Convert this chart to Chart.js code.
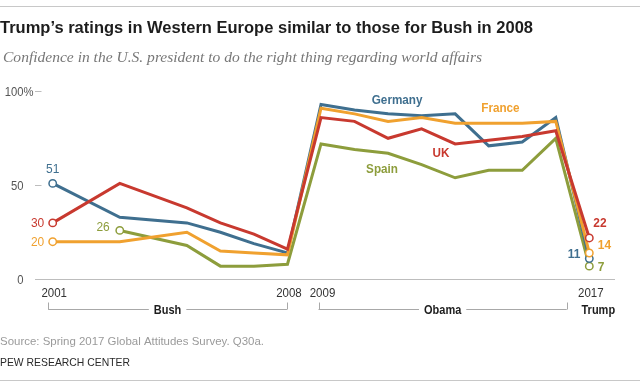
<!DOCTYPE html>
<html>
<head>
<meta charset="utf-8">
<script src="https://cdn.jsdelivr.net/npm/chart.js@4"></script>
<style>
  html, body { margin: 0; padding: 0; background: #fff; }
  canvas { display: block; }
</style>
</head>
<body>
<canvas id="chart" width="640" height="386"></canvas>
<script>
// Confidence in the U.S. president (%), by survey year
const years = [2001, 2003, 2005, 2006, 2007, 2008, 2009, 2010, 2011, 2012, 2013, 2014, 2015, 2016, 2017]
const germany = [51, 33, 30, 25, 19, 14, 93, 90, 88, 87, 88, 71, 73, 86, 11]
const france = [20, 20, 25, 15, 14, 13, 91, 88, 84, 86, 83, 83, 83, 84, 14]
const uk = [30, 51, 38, 30, 24, 16, 86, 84, 75, 80, 72, 74, 76, 79, 22]
const spain = [null, 26, 18, 7, 7, 8, 72, 69, 67, 61, 54, 58, 58, 75, 7]

const yTicks = [0, 50, 100]
const xTickYears = [2001, 2008, 2009, 2017]
const eraNames = ["Bush", "Obama", "Trump"]

const SANS = "'Liberation Sans', Arial, sans-serif"

const colors = {
  Germany: "#3f6f8f",
  France: "#f0a12f",
  UK: "#c8392f",
  Spain: "#8d9d3c"
}

function toPoints(values) {
  return years.map((yr, i) => ({ x: yr, y: values[i] }))
}

function firstIndex(values) {
  return values.findIndex(v => v !== null)
}

// draw text, optionally squeezed horizontally (sx) or fitted to a width
function txt(ctx, s, x, y, font, color, align, sx, fitW) {
  ctx.save()
  ctx.font = font
  ctx.fillStyle = color
  ctx.textBaseline = "alphabetic"
  const raw = ctx.measureText(s).width
  let k = sx || 1
  if (fitW) k = fitW / raw
  const w = raw * k
  let x0 = x
  if (align === "right") x0 = x - w
  if (align === "center") x0 = x - w / 2
  ctx.translate(x0, y)
  ctx.scale(k, 1)
  ctx.fillText(s, 0, 0)
  ctx.restore()
}

function line(ctx, x1, y1, x2, y2, color, w) {
  ctx.save()
  ctx.strokeStyle = color
  ctx.lineWidth = w || 1
  ctx.beginPath()
  ctx.moveTo(x1, y1)
  ctx.lineTo(x2, y2)
  ctx.stroke()
  ctx.restore()
}

const series = [
  { name: "UK", values: uk },
  { name: "France", values: france },
  { name: "Germany", values: germany },
  { name: "Spain", values: spain }
]

const frame = {
  id: "frame",
  beforeDatasetsDraw(chart) {
    const { ctx, scales: { x, y } } = chart

    // header and footer
    line(ctx, 0, 6.5, 640, 6.5, "#c8c8c8", 1)
    txt(ctx, "Trump\u2019s ratings in Western Europe similar to those for Bush in 2008", 0, 33,
      "bold 17px " + SANS, "#1d1d1d", "left", 1, 533)
    txt(ctx, "Confidence in the U.S. president to do the right thing regarding world affairs", 3, 62,
      "italic 15px 'Liberation Serif', 'Times New Roman', serif", "#777", "left", 1, 479)
    txt(ctx, "Source: Spring 2017 Global Attitudes Survey. Q30a.", 0, 345,
      "11.5px " + SANS, "#9a9a9a", "left", 1, 264)
    txt(ctx, "PEW RESEARCH CENTER", 0, 365.5, "11.5px " + SANS, "#2a2a2a", "left", 1, 130)
    line(ctx, 0, 380.5, 640, 380.5, "#c8c8c8", 1)

    // y axis ticks
    yTicks.forEach(t => {
      const py = y.getPixelForValue(t)
      if (t === 0) {
        line(ctx, 35, Math.round(py) + 0.5, 615, Math.round(py) + 0.5, "#bdbdbd", 1)
      } else {
        line(ctx, 35, Math.round(py) + 0.5, 41.5, Math.round(py) + 0.5, "#bdbdbd", 1)
      }
      txt(ctx, String(t), 23.5, py + 4.5, "12.5px " + SANS, "#555", "right", 0.9)
      if (t === 100) txt(ctx, "%", 23.5, py + 4.5, "12.5px " + SANS, "#555", "left", 0.9)
    })

    // x axis year labels
    xTickYears.forEach(yr => {
      const px = x.getPixelForValue(yr)
      txt(ctx, String(yr), px + 1.5, 297, "12.5px " + SANS, "#333", "center", 0.92)
    })

    // president brackets
    const by = 309.5
    const eras = [
      { name: eraNames[0], a: x.getPixelForValue(2001) - 4.5, b: x.getPixelForValue(2008) - 0.5 },
      { name: eraNames[1], a: x.getPixelForValue(2009) - 2.5, b: x.getPixelForValue(2016) + 11 }
    ]
    eras.forEach(e => {
      const mid = (e.a + e.b) / 2
      ctx.save()
      ctx.font = "bold 12.5px " + SANS
      const half = ctx.measureText(e.name).width * 0.88 / 2 + 5
      ctx.restore()
      line(ctx, Math.round(e.a) + 0.5, 302.5, Math.round(e.a) + 0.5, by, "#a8a8a8", 1)
      line(ctx, Math.round(e.b) + 0.5, 302.5, Math.round(e.b) + 0.5, by, "#a8a8a8", 1)
      line(ctx, e.a, by, mid - half, by, "#a8a8a8", 1)
      line(ctx, mid + half, by, e.b, by, "#a8a8a8", 1)
      txt(ctx, e.name, mid, 313.5, "bold 12.5px " + SANS, "#1d1d1d", "center", 0.88)
    })
    txt(ctx, eraNames[2], x.getPixelForValue(2017) + 9, 313.5, "bold 12.5px " + SANS, "#1d1d1d", "center", 0.88)
  }
}

const labels = {
  id: "labels",
  afterDatasetsDraw(chart) {
    const { ctx, scales: { x, y } } = chart
    const f = "13px " + SANS
    const fb = "bold 13px " + SANS

    // series names
    txt(ctx, "Germany", x.getPixelForValue(2011.27), y.getPixelForValue(93.2), fb, colors.Germany, "center", 0.9)
    txt(ctx, "France", x.getPixelForValue(2014.35), y.getPixelForValue(89.1), fb, colors.France, "center", 0.9)
    txt(ctx, "UK", x.getPixelForValue(2012.58), y.getPixelForValue(65.2), fb, colors.UK, "center", 0.9)
    txt(ctx, "Spain", x.getPixelForValue(2010.82), y.getPixelForValue(56.7), fb, colors.Spain, "center", 0.9)

    // start values
    const s = i => ({ px: x.getPixelForValue(years[firstIndex(series[i].values)]), v: series[i].values[firstIndex(series[i].values)] })
    const g0 = s(2), u0 = s(0), f0 = s(1), e0 = s(3)
    txt(ctx, String(g0.v), g0.px, y.getPixelForValue(g0.v) - 10, f, colors.Germany, "center", 0.92)
    txt(ctx, String(u0.v), u0.px - 8.5, y.getPixelForValue(u0.v) + 4.5, f, colors.UK, "right", 0.92)
    txt(ctx, String(f0.v), f0.px - 8.5, y.getPixelForValue(f0.v) + 4.5, f, colors.France, "right", 0.92)
    txt(ctx, String(e0.v), e0.px - 10, y.getPixelForValue(e0.v) + 1, f, colors.Spain, "right", 0.92)

    // end values
    const last = years.length - 1
    const ex = x.getPixelForValue(years[last])
    txt(ctx, String(uk[last]), ex + 4, y.getPixelForValue(uk[last]) - 10.5, fb, colors.UK, "left", 0.92)
    txt(ctx, String(france[last]), ex + 8.5, y.getPixelForValue(france[last]) - 4, fb, colors.France, "left", 0.92)
    txt(ctx, String(germany[last]), ex - 9, y.getPixelForValue(germany[last]) - 0.5, fb, colors.Germany, "right", 0.92)
    txt(ctx, String(spain[last]), ex + 8.5, y.getPixelForValue(spain[last]) + 4.5, fb, colors.Spain, "left", 0.92)
  }
}

new Chart(document.getElementById("chart"), {
  type: "line",
  data: {
    datasets: series.map(sr => {
      const first = firstIndex(sr.values)
      return {
        label: sr.name,
        data: toPoints(sr.values),
        borderColor: colors[sr.name],
        borderWidth: 3,
        tension: 0,
        spanGaps: false,
        clip: false,
        pointRadius: ctx => (ctx.dataIndex === first || ctx.dataIndex === years.length - 1) ? 3.7 : 0,
        pointBackgroundColor: "#ffffff",
        pointBorderColor: colors[sr.name],
        pointBorderWidth: 1.5,
        pointHoverRadius: 0
      }
    })
  },
  options: {
    responsive: false,
    devicePixelRatio: 1,
    animation: false,
    events: [],
    layout: {
      padding: { left: 52.7, right: 50.7, top: 91.3, bottom: 106.7 }
    },
    plugins: {
      legend: { display: false },
      tooltip: { enabled: false }
    },
    scales: {
      x: { type: "linear", min: 2001, max: 2017, display: false },
      y: { min: 0, max: 100, display: false }
    }
  },
  plugins: [frame, labels]
})
</script>
</body>
</html>
